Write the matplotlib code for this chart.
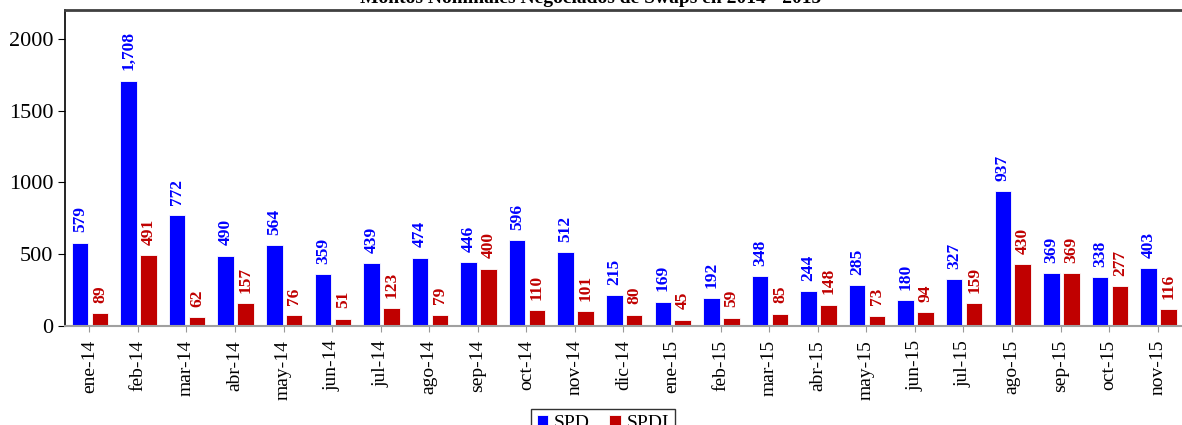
import numpy as np
from matplotlib import pyplot as plt

meses = ["ene-14", "feb-14", "mar-14", "abr-14", "may-14", "jun-14", "jul-14", "ago-14",
         "sep-14", "oct-14", "nov-14", "dic-14", "ene-15", "feb-15", "mar-15", "abr-15",
         "may-15", "jun-15", "jul-15", "ago-15", "sep-15", "oct-15", "nov-15"]
spd = [579, 1708, 772, 490, 564, 359, 439, 474, 446, 596, 512, 215,
       169, 192, 348, 244, 285, 180, 327, 937, 369, 338, 403]
spdi = [89, 491, 62, 157, 76, 51, 123, 79, 400, 110, 101, 80,
        45, 59, 85, 148, 73, 94, 159, 430, 369, 277, 116]

plt.rcParams['font.family'] = ['Liberation Serif', 'DejaVu Serif']

azul = "#0000FF"
rojo = "#C00000"

fig = plt.figure(figsize=(11.82, 4.25), dpi=100)
ax = fig.add_axes([65/1182, 1-326/425, 1-65/1182, (326-10)/425])

x = np.arange(len(meses))
w = 0.34
b1 = ax.bar(x - 0.19, spd, w, color=azul, edgecolor="white", linewidth=0.6, label="SPD")
b2 = ax.bar(x + 0.22, spdi, w, color=rojo, edgecolor="white", linewidth=0.6, label="SPDI")

for xi, v in zip(x, spd):
    ax.annotate(f"{v:,}", (xi - 0.19, v), xytext=(0, 7.5), textcoords="offset points",
                rotation=90, ha="center", va="bottom", color=azul, fontweight="bold", fontsize=12.5)
for xi, v in zip(x, spdi):
    ax.annotate(f"{v:,}", (xi + 0.22, v), xytext=(0, 7.5), textcoords="offset points",
                rotation=90, ha="center", va="bottom", color=rojo, fontweight="bold", fontsize=12.5)

ax.set_xlim(-0.5, len(meses) - 0.5)
ax.set_ylim(0, 2200)
ax.set_yticks([0, 500, 1000, 1500, 2000])
ax.set_xticks(x)
ax.set_xticklabels(meses, rotation=90, fontsize=14)
ax.tick_params(axis="y", labelsize=16, length=5, direction="out")
ax.tick_params(axis="x", length=4, color="#999999", pad=6)

ax.spines["right"].set_visible(False)
ax.spines["top"].set_color("#404040")
ax.spines["top"].set_linewidth(2)
ax.spines["bottom"].set_color("#a0a0a0")
ax.spines["bottom"].set_linewidth(1.5)
ax.spines["left"].set_linewidth(1.2)

fig.text(0.5, 1 - 3/425, "Montos Nominales Negociados de Swaps en 2014 - 2015",
         ha="center", va="baseline", fontsize=14, fontweight="bold")

fig.legend(handles=[b1, b2], loc="upper center", bbox_to_anchor=(603/1182, 1 - 399/425),
           ncol=2, fontsize=14, frameon=True, fancybox=False, edgecolor="black",
           handlelength=0.6, handleheight=0.6, handletextpad=0.3, columnspacing=1.0,
           borderpad=0.3)

plt.savefig("out.png", dpi=100)
